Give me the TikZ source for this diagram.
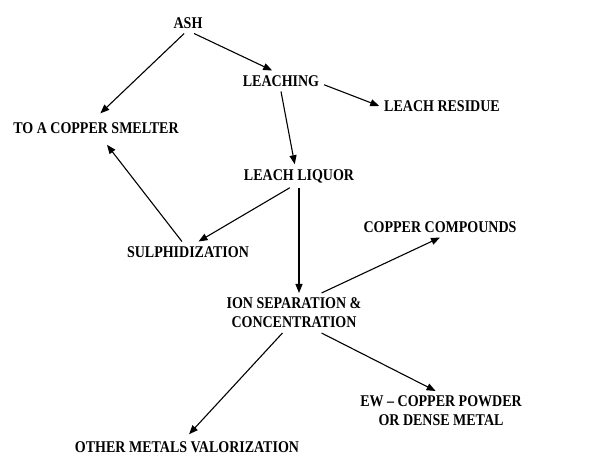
\documentclass[tikz,border=0pt]{standalone}
\usepackage{fontspec}
\setmainfont{Liberation Serif}
\usepackage{graphicx}
\usepackage{tikz}
\usetikzlibrary{arrows.meta, calc, positioning}

\newcommand{\tallt}[1]{\scalebox{1}[1.17]{#1}}

\begin{document}
\begin{tikzpicture}[x=1pt, y=-1pt,
		lbl/.style={font=\fontsize{14}{19}\selectfont\bfseries, align=center, inner sep=2pt, outer sep=3pt},
		flow/.style={line width=1.1pt, -{Triangle[length=9pt,width=7pt]}}]
		\useasboundingbox[fill=white] (0,0) rectangle (602,457);
		% process steps
		\node[lbl] (ash) at (188,23) {\tallt{ASH}};
		\node[lbl] (leaching) at (281,81) {\tallt{LEACHING}};
		\node[lbl] (residue) at (442,106) {\tallt{LEACH RESIDUE}};
		\node[lbl] (smelter) at (96,128) {\tallt{TO A COPPER SMELTER}};
		\node[lbl] (liquor) at (299,176) {\tallt{LEACH LIQUOR}};
		\node[lbl] (compounds) at (440,227) {\tallt{COPPER COMPOUNDS}};
		\node[lbl] (sulph) at (188,252) {\tallt{SULPHIDIZATION}};
		\node[lbl] (ion) at (294,313) {\tallt{ION SEPARATION \&}\\\tallt{CONCENTRATION}};
		\node[lbl] (ew) at (441,411) {\tallt{EW -- COPPER POWDER}\\\tallt{OR DENSE METAL}};
		\node[lbl] (other) at (187,447) {\tallt{OTHER METALS VALORIZATION}};
		% flows
		\draw[flow, shorten >=6pt] (ash.-110) -- (smelter.north);
		\draw[flow] (ash.-60) -- (leaching.130);
		\draw[flow] (leaching.-5) -- (residue.west);
		\draw[flow] (leaching.south) -- (liquor.110);
		\draw[flow] (liquor.-128) -- (sulph.45);
		\draw[flow, shorten >=8pt] (sulph.120) -- (smelter.-60);
		\draw[flow] (liquor.south) -- (liquor.south |- ion.north);
		\draw[flow] (ion.36) -- (compounds.south);
		\draw[flow] (ion.-36) -- (ew.105);
		\draw[flow, shorten >=3pt] (ion.-120) -- (other.north);
	\end{tikzpicture}
\end{document}
